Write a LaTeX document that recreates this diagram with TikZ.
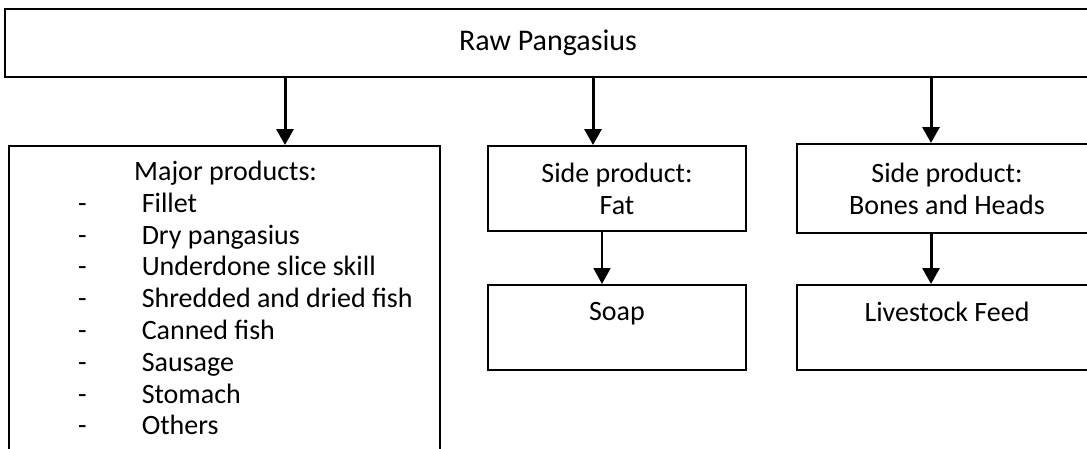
\documentclass[tikz,border=0pt]{standalone}
\usepackage{fontspec}
\setmainfont{Carlito}
\usetikzlibrary{arrows.meta}
\tikzset{
  box/.style={draw,line width=2pt,anchor=north west,inner sep=0pt,align=center},
  flow/.style={-{Triangle[width=17pt,length=16pt]},line width=3pt},
  thinflow/.style={flow,line width=1.8pt},
}
\begin{document}
\begin{tikzpicture}[x=1pt,y=-1pt,font=\fontsize{28}{31.8}\selectfont]
  \useasboundingbox (0,0) rectangle (1087,448);
  \clip (0,0) rectangle (1087,448);
  % boxes
  \node[box,minimum width=1086pt,minimum height=68pt,font=\fontsize{30}{34}\selectfont] (raw) at (4,8) {Raw Pangasius};
  \node[box,minimum width=431pt,minimum height=330pt] (major) at (8,145) {};
  \node[anchor=north west,inner sep=0pt] (list) at (78,158) {%
    \begin{tabular}{@{}c@{\hspace{55pt}}l@{}}
      \multicolumn{2}{@{}l@{}}{\hspace*{56pt}Major products:}\\
      - & Fillet\\
      - & Dry pangasius\\
      - & Underdone slice skill\\
      - & Shredded and dried fish\\
      - & Canned fish\\
      - & Sausage\\
      - & Stomach\\
      - & Others
    \end{tabular}};
  \node[box,minimum width=258pt,minimum height=85pt] (fat) at (487,145) {Side product:\\Fat};
  \node[box,minimum width=258pt,minimum height=85pt] (soap) at (487,284) {Soap\\\mbox{}};
  \node[box,minimum width=300pt,minimum height=89pt] (bones) at (796,143) {Side product:\\Bones and Heads};
  \node[box,minimum width=300pt,minimum height=85pt] (feed) at (796,284) {Livestock Feed\\\mbox{}};
  % arrow columns
  \coordinate (c1) at (285,0);
  \coordinate (c2) at (593,0);
  \coordinate (c3) at (931,0);
  \coordinate (c4) at (602,0);
  \draw[flow] (raw.south -| c1) -- (major.north -| c1);
  \draw[flow] (raw.south -| c2) -- (fat.north -| c2);
  \draw[flow] (raw.south -| c3) -- (bones.north -| c3);
  \draw[thinflow] (fat.south -| c4) -- (soap.north -| c4);
  \draw[flow] (bones.south -| c3) -- (feed.north -| c3);
\end{tikzpicture}
\end{document}
